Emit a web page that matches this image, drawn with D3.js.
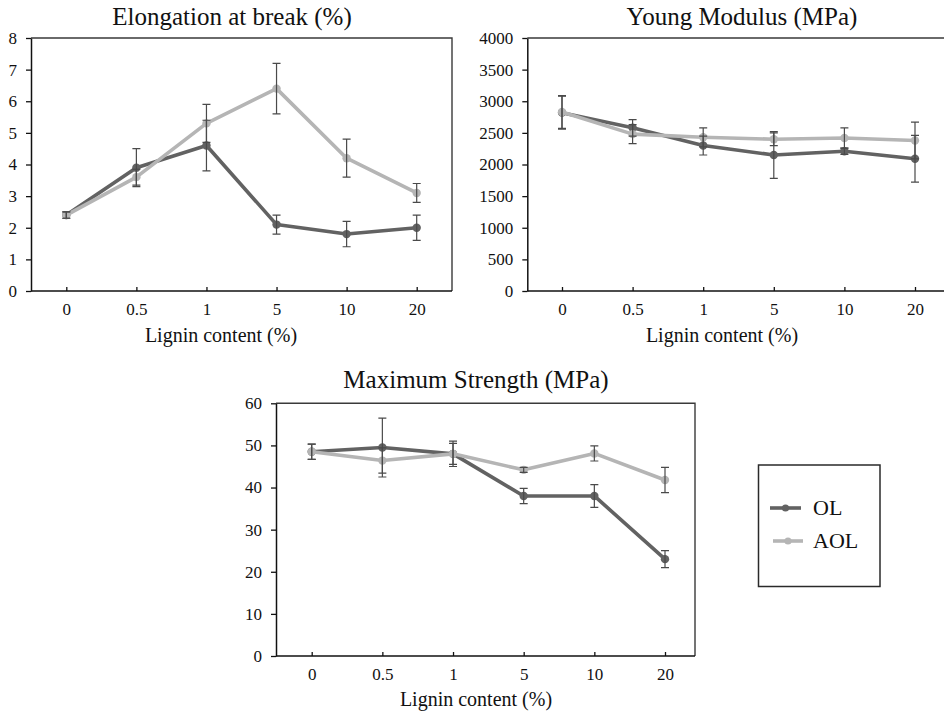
<!DOCTYPE html>
<html>
<head>
<meta charset="utf-8">
<script src="https://cdn.jsdelivr.net/npm/d3@7"></script>
<style>
  html, body { margin: 0; padding: 0; background: #fff; }
  svg { display: block; }
  svg text { font-family: "Liberation Serif", "Times New Roman", serif; }
</style>
</head>
<body>
<svg id="chart" width="944" height="715"></svg>
<script>
// Lignin loading levels (categorical x axis)
const lignin = ["0", "0.5", "1", "5", "10", "20"];
const seriesNames = ["OL", "AOL"];

// Elongation at break (%)
const elongOL = [2.4, 3.9, 4.6, 2.1, 1.8, 2.0];
const elongOLErr = [0.1, 0.6, 0.8, 0.3, 0.4, 0.4];
const elongAOL = [2.4, 3.6, 5.3, 6.4, 4.2, 3.1];
const elongAOLErr = [0.1, 0.25, 0.6, 0.8, 0.6, 0.3];
const elongTicks = [0, 1, 2, 3, 4, 5, 6, 7, 8];

// Young modulus (MPa)
const youngOL = [2820, 2580, 2300, 2150, 2210, 2090];
const youngOLErr = [260, 130, 150, 370, 50, 370];
const youngAOL = [2830, 2480, 2430, 2400, 2420, 2380];
const youngAOLErr = [260, 150, 150, 100, 160, 290];
const youngTicks = [0, 500, 1000, 1500, 2000, 2500, 3000, 3500, 4000];

// Maximum strength (MPa)
const strengthOL = [48.5, 49.5, 48, 38, 38, 23];
const strengthOLErr = [1.8, 7, 3, 1.8, 2.7, 2];
const strengthAOL = [48.5, 46.4, 48, 44.2, 48.1, 41.8];
const strengthAOLErr = [1.8, 3, 2.5, 0.6, 1.8, 3];
const strengthTicks = [0, 10, 20, 30, 40, 50, 60];

const colors = { OL: "#626262", AOL: "#b5b5b5" };
const ink = "#111";

const panels = [
  {
    title: "Elongation at break (%)", titleX: 232, titleY: 25,
    frame: { left: 31, right: 452, top: 38, bottom: 291 },
    xRange: [66.3, 416.7], yMax: 8, ticks: elongTicks,
    labelX: 221, labelY: 342,
    series: [
      { name: "OL", values: elongOL, err: elongOLErr },
      { name: "AOL", values: elongAOL, err: elongAOLErr }
    ]
  },
  {
    title: "Young Modulus (MPa)", titleX: 742, titleY: 25,
    frame: { left: 527.3, right: 952, top: 38, bottom: 291 },
    xRange: [562, 915], yMax: 4000, ticks: youngTicks,
    labelX: 722, labelY: 342,
    series: [
      { name: "OL", values: youngOL, err: youngOLErr },
      { name: "AOL", values: youngAOL, err: youngAOLErr }
    ]
  },
  {
    title: "Maximum Strength (MPa)", titleX: 476, titleY: 388,
    frame: { left: 276, right: 695, top: 403.3, bottom: 656 },
    xRange: [311.7, 665], yMax: 60, ticks: strengthTicks,
    labelX: 476, labelY: 706,
    series: [
      { name: "OL", values: strengthOL, err: strengthOLErr },
      { name: "AOL", values: strengthAOL, err: strengthAOLErr }
    ]
  }
];

const svg = d3.select("#chart");

panels.forEach(p => {
  const g = svg.append("g");
  const f = p.frame;
  const x = d3.scalePoint().domain(lignin).range(p.xRange);
  const y = d3.scaleLinear().domain([0, p.yMax]).range([f.bottom, f.top]);

  // plot-area frame (top and right sides)
  g.append("path")
    .attr("d", `M${f.left},${f.top}H${f.right}V${f.bottom}`)
    .attr("fill", "none").attr("stroke", "#3a3a3a").attr("stroke-width", 1.4);

  // y axis
  const ya = g.append("g").attr("transform", `translate(${f.left},0)`)
    .call(d3.axisLeft(y).tickValues(p.ticks).tickFormat(d3.format("d"))
      .tickSize(5).tickPadding(9).tickSizeOuter(0));
  ya.attr("font-family", null).attr("font-size", null);
  ya.select(".domain").attr("stroke", ink).attr("stroke-width", 1.5);
  ya.selectAll(".tick line").attr("stroke", ink).attr("stroke-width", 1.3);
  ya.selectAll(".tick text").style("font-size", "17px").attr("fill", ink);

  // x axis, ticks pointing inward
  const xa = g.append("g").attr("transform", `translate(0,${f.bottom})`)
    .call(d3.axisBottom(x).tickSize(-4).tickPadding(12).tickSizeOuter(0));
  xa.attr("font-family", null).attr("font-size", null);
  xa.select(".domain").remove();
  g.append("line")
    .attr("x1", f.left).attr("x2", f.right).attr("y1", f.bottom).attr("y2", f.bottom)
    .attr("stroke", ink).attr("stroke-width", 1.5);
  xa.selectAll(".tick line").attr("stroke", ink).attr("stroke-width", 1.3);
  xa.selectAll(".tick text").style("font-size", "17px").attr("fill", ink);

  // titles
  g.append("text").attr("x", p.titleX).attr("y", p.titleY)
    .attr("text-anchor", "middle").style("font-size", "25px").attr("fill", ink)
    .text(p.title);
  g.append("text").attr("x", p.labelX).attr("y", p.labelY)
    .attr("text-anchor", "middle").style("font-size", "20px").attr("fill", ink)
    .text("Lignin content (%)");

  const line = d3.line().x((d, i) => x(lignin[i])).y(d => y(d));

  // series lines and markers
  p.series.forEach(s => {
    g.append("path").datum(s.values)
      .attr("d", line)
      .attr("fill", "none").attr("stroke", colors[s.name])
      .attr("stroke-width", 3.6).attr("stroke-linejoin", "round");
    g.selectAll(null).data(s.values).enter().append("circle")
      .attr("cx", (d, i) => x(lignin[i])).attr("cy", d => y(d))
      .attr("r", 4.2).attr("fill", colors[s.name]);
  });

  // error bars
  p.series.forEach(s => {
    const eb = g.append("g").attr("stroke", "#4a4a4a").attr("stroke-width", 1.2).attr("fill", "none");
    s.values.forEach((v, i) => {
      const cx = x(lignin[i]);
      const y1 = y(v + s.err[i]), y2 = y(v - s.err[i]);
      eb.append("path").attr("d", `M${cx},${y1}V${y2}M${cx - 4},${y1}H${cx + 4}M${cx - 4},${y2}H${cx + 4}`);
    });
  });
});

// legend
const legend = svg.append("g");
legend.append("rect").attr("x", 758.5).attr("y", 465).attr("width", 121.5).attr("height", 121.5)
  .attr("fill", "none").attr("stroke", "#2a2a2a").attr("stroke-width", 1.5);
const legendRows = [
  { name: seriesNames[0], x1: 770, x2: 801, y: 508, ty: 515 },
  { name: seriesNames[1], x1: 773, x2: 803, y: 541, ty: 548 }
];
legendRows.forEach(r => {
  legend.append("line").attr("x1", r.x1).attr("x2", r.x2).attr("y1", r.y).attr("y2", r.y)
    .attr("stroke", colors[r.name]).attr("stroke-width", 3.6);
  legend.append("circle").attr("cx", (r.x1 + r.x2) / 2).attr("cy", r.y).attr("r", 3.6)
    .attr("fill", colors[r.name]);
  legend.append("text").attr("x", 813).attr("y", r.ty).style("font-size", "22px").attr("fill", ink)
    .text(r.name);
});
</script>
</body>
</html>
